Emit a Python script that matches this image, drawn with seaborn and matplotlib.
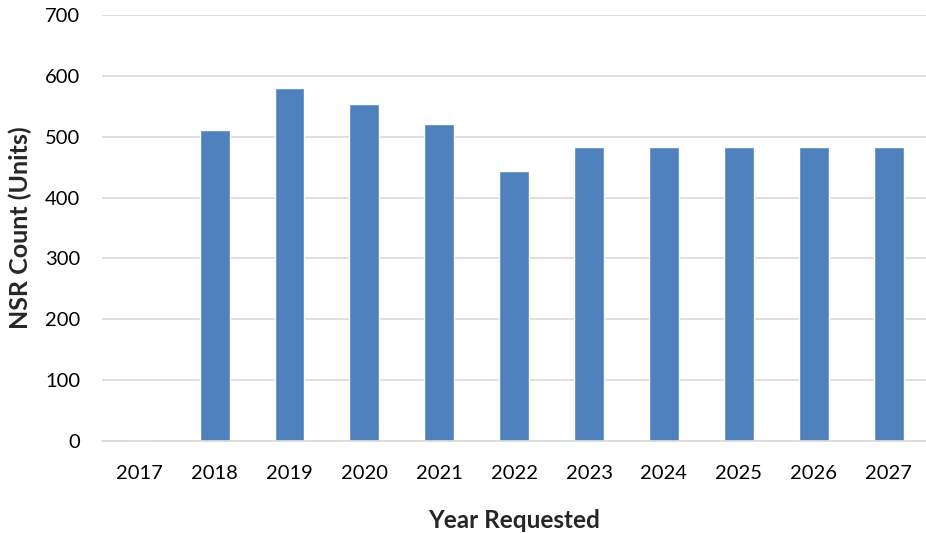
import matplotlib
matplotlib.use("Agg")
import matplotlib.pyplot as plt
import seaborn as sns
import pandas as pd

years = ["2017", "2018", "2019", "2020", "2021", "2022", "2023", "2024", "2025", "2026", "2027"]
counts = [0, 511, 580, 554, 521, 444, 483, 483, 483, 483, 483]
yticks = [0, 100, 200, 300, 400, 500, 600, 700]

sns.set_theme(style="white")
plt.rcParams['font.family'] = ['Lato', 'DejaVu Sans']

df = pd.DataFrame({"year": years, "count": counts})

fig = plt.figure(figsize=(9.26, 5.33), dpi=100)
ax = fig.add_axes([0.1105, 0.1726, 0.8895, 0.7993])
sns.barplot(data=df, x="year", y="count", color="#4F81BD", width=0.4,
            saturation=1, ax=ax, zorder=3)

ax.set_ylim(0, 700)
ax.set_yticks(yticks)
ax.set_xlim(-0.5, len(years) - 0.5)
ax.yaxis.grid(True, color="#D9D9D9", linewidth=1.2, zorder=0)
ax.xaxis.grid(False)
for s in ["top", "right", "left"]:
    ax.spines[s].set_visible(False)
ax.spines["bottom"].set_color("#D9D9D9")
ax.spines["bottom"].set_linewidth(1.2)
ax.spines["bottom"].set_zorder(4)
ax.tick_params(axis="both", length=0, labelsize=14.5, colors="black")
ax.tick_params(axis="y", pad=16)
ax.tick_params(axis="x", pad=17)

ax.set_xlabel("Year Requested", fontsize=17.5, fontweight="bold", labelpad=20)
ax.set_ylabel("NSR Count (Units)", fontsize=18, fontweight="bold", labelpad=9)

fig.savefig("out.png", dpi=100)
